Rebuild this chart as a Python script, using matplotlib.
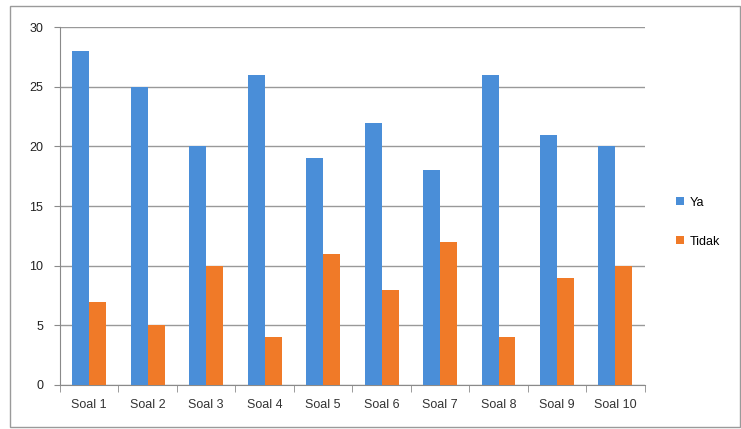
import numpy as np
import matplotlib
matplotlib.use("Agg")
import matplotlib.pyplot as plt
from matplotlib.patches import Rectangle

categories = ["Soal 1", "Soal 2", "Soal 3", "Soal 4", "Soal 5",
              "Soal 6", "Soal 7", "Soal 8", "Soal 9", "Soal 10"]
ya = [28, 25, 20, 26, 19, 22, 18, 26, 21, 20]
tidak = [7, 5, 10, 4, 11, 8, 12, 4, 9, 10]
series_names = ["Ya", "Tidak"]
yticks = [0, 5, 10, 15, 20, 25, 30]

plt.rcParams["font.family"] = ["Liberation Sans", "DejaVu Sans"]

fig = plt.figure(figsize=(7.41, 4.29), dpi=100)
ax = fig.add_axes([0.081, 0.1026, 0.789, 0.834])

# outer chart border
fig.patches.append(Rectangle((0.014, 0.005), 0.985, 0.981, transform=fig.transFigure,
                             fill=False, edgecolor="#9a9a9a", linewidth=1.0))

x = np.arange(len(categories))
w = 0.29
ax.bar(x - w / 2, ya, w, color="#4A8ED8", label=series_names[0], zorder=3)
ax.bar(x + w / 2, tidak, w, color="#F07A28", label=series_names[1], zorder=3)

ax.set_xlim(-0.5, len(categories) - 0.5)
ax.set_ylim(0, 30)
ax.set_yticks(yticks)
ax.set_xticks(x)
ax.set_xticklabels(categories, fontsize=9, color="#333333")
ax.tick_params(axis="x", length=0, pad=10)
ax.tick_params(axis="y", length=4, direction="out", colors="#8a8a8a", labelcolor="#222222",
               labelsize=9, pad=8)

# category separator ticks below the axis
ax.set_xticks(np.arange(-0.5, len(categories)), minor=True)
ax.tick_params(axis="x", which="minor", length=5, color="#8a8a8a")

ax.grid(axis="y", color="#999999", linewidth=1.0, zorder=0)
for side in ["top", "right"]:
    ax.spines[side].set_visible(False)
ax.spines["left"].set_color("#8a8a8a")
ax.spines["bottom"].set_color("#8a8a8a")

ax.legend(loc="center left", bbox_to_anchor=(1.035, 0.455), frameon=False,
          fontsize=9, handlelength=0.6, handleheight=0.6, labelspacing=2.15,
          handletextpad=0.5)

fig.savefig("out.png", dpi=100)
